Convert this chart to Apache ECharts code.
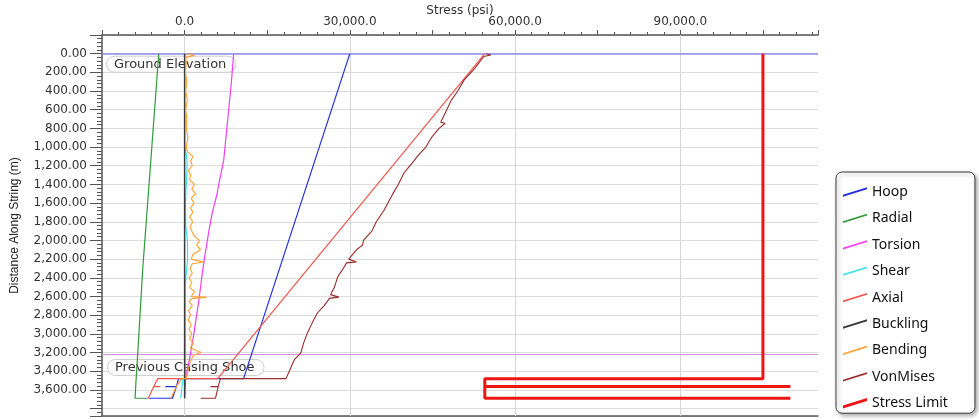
<!DOCTYPE html>
<html>
<head>
<meta charset="utf-8">
<script src="https://cdn.jsdelivr.net/npm/echarts@6/dist/echarts.min.js"></script>
<style>
  html, body { margin: 0; padding: 0; background: #fff; }
  #chart { width: 979px; height: 420px; }
</style>
</head>
<body>
<div id="chart"></div>
<script>
// Stress profile along the string: each series is [stress (psi), distance along string (m)]
const hoop = [[30000,0],[10700,3480],[-1100,3480],[-1500,3565],[-3500,3565],[-1500,3565],[-2200,3690],[-6500,3690]];
const radial = [[-4700,0],[-5700,800],[-7600,2300],[-8500,3200],[-8800,3480],[-9000,3690],[-6700,3690]];
const torsion = [[8900,0],[8500,300],[8000,600],[7500,900],[7100,1140],[6200,1400],[5900,1500],[5000,1710],[4400,1900],[3500,2230],[3100,2400],[2600,2640],[1700,2990],[1100,3200],[200,3480],[0,3480],[0,3690]];
const shear = [[0,0],[0,1000],[300,1080],[450,1150],[400,1300],[250,1450],[150,1600],[200,1850],[500,2000],[550,2200],[300,2350],[100,2500],[100,3480],[-300,3480],[-700,3690]];
const axial = [[54500,0],[6000,3480],[-4900,3480],[-5600,3565],[-4400,3565],[-5600,3565],[-6600,3690]];
const buckling = [[0,0],[0,3690]];
const bending = [[300,0],[1800,20],[200,40],[300,100],[150,200],[400,300],[200,400],[500,500],[200,600],[400,700],[300,800],[600,900],[300,1000],[500,1050],[1500,1100],[1100,1150],[1400,1200],[700,1250],[1100,1300],[900,1350],[1800,1400],[1300,1450],[2000,1500],[1200,1550],[1700,1600],[1100,1650],[1500,1700],[900,1750],[1500,1800],[1000,1850],[1300,1900],[1700,1950],[2700,2000],[2200,2050],[2900,2100],[1500,2150],[1200,2200],[3400,2230],[1400,2250],[1000,2300],[1400,2350],[800,2400],[1300,2450],[900,2500],[1800,2550],[1200,2600],[4000,2610],[1400,2620],[800,2650],[1400,2700],[700,2750],[1100,2800],[600,2850],[1200,2900],[800,2950],[1300,3000],[900,3050],[1600,3100],[1000,3150],[2200,3180],[3000,3200],[1600,3230],[1000,3300],[600,3400],[300,3480],[-600,3480],[-1500,3565],[-2500,3690]];
const vonMises = [[54800,0],[55600,15],[54300,30],[52800,150],[50700,286],[49600,400],[48400,500],[47600,600],[46500,735],[47300,745],[46200,800],[44800,900],[43800,1000],[42400,1090],[41600,1150],[39800,1280],[38800,1400],[38000,1480],[37500,1535],[36200,1676],[34800,1800],[34000,1900],[32500,1997],[32300,2050],[31200,2100],[29800,2200],[31200,2230],[29400,2240],[28800,2300],[27800,2390],[27200,2500],[26500,2580],[28000,2607],[26300,2620],[25300,2700],[24100,2777],[23200,2880],[22300,2990],[21600,3100],[21100,3205],[19900,3280],[19000,3400],[18400,3480],[6500,3480],[6100,3565],[4700,3565],[6100,3565],[5600,3690],[2900,3690]];
const stressLimit = [[105000,0],[105000,3480],[54500,3480],[54500,3565],[110000,3565],[54500,3565],[54500,3690],[110000,3690]];

const seriesNames = ['Hoop','Radial','Torsion','Shear','Axial','Buckling','Bending','VonMises','Stress Limit'];
const seriesData = [hoop, radial, torsion, shear, axial, buckling, bending, vonMises, stressLimit];
const seriesColors = ['#2430dc','#2f9a3c','#f23ef0','#3fe0ea','#f0564c','#3c3c3c','#ffa12e','#9a2c2c','#ee1515'];
const seriesWidths = [1.2,1.2,1.2,1.2,1.2,1.5,1.1,1.1,3];

// reference depths (m) and stress grid positions (psi)
const groundElevation = 0;
const casingShoe = 3215;
const stressGrid = [0, 30000, 60000, 90000];

const stressMin = -15000, stressMax = 115000;
const depthMin = -200, depthMax = 3880;

function fmt(v, dp) {
  const s = Math.abs(v).toFixed(dp);
  const parts = s.split('.');
  const i = parts[0].replace(/\B(?=(\d{3})+(?!\d))/g, ',');
  return (v < 0 ? '-' : '') + i + (parts[1] ? '.' + parts[1] : '');
}

const FONT = 'DejaVu Sans';
const chart = echarts.init(document.getElementById('chart'), null, { renderer: 'canvas' });

const lineSeries = seriesNames.map((name, k) => ({
  name: name,
  type: 'line',
  data: seriesData[k],
  xAxisIndex: 0,
  yAxisIndex: 0,
  symbol: 'none',
  showSymbol: false,
  lineStyle: { color: seriesColors[k], width: seriesWidths[k] },
  itemStyle: { color: seriesColors[k] },
  z: 3,
  animation: false
}));

const legendIcon = 'path://M0,8 L24,0.5 L24,2.3 L0,9.8 Z';
const legendIconBold = 'path://M0,7.5 L24,0 L24,3 L0,10.5 Z';

const refLabel = (text, dist) => ({
  show: true, position: 'insideStartBottom', formatter: text,
  distance: dist,
  fontFamily: FONT, fontSize: 13, color: '#333',
  backgroundColor: '#fff', borderColor: '#d0d0d0', borderWidth: 1, borderRadius: 9,
  padding: [1, 9, 1, 7]
});

chart.setOption({
  animation: false,
  grid: { left: 102, top: 35, right: 161, bottom: 4, containLabel: false, outerBoundsMode: 'none' },
  legend: {
    orient: 'vertical',
    left: 836,
    top: 172,
    padding: [13, 27, 3, 7],
    itemWidth: 24,
    itemHeight: 14,
    itemGap: 12.4,
    itemStyle: { borderWidth: 0 },
    backgroundColor: '#fff',
    borderColor: '#3a3a3a',
    borderWidth: 1,
    borderRadius: 6,
    shadowBlur: 4,
    shadowColor: 'rgba(0,0,0,0.35)',
    shadowOffsetX: 2,
    shadowOffsetY: 2,
    textStyle: { fontFamily: 'Noto Sans', fontSize: 14, color: '#111' },
    data: seriesNames.map((n, k) => ({ name: n, icon: k === 8 ? legendIconBold : legendIcon }))
  },
  xAxis: [
    {
      type: 'value', position: 'top', min: stressMin, max: stressMax, interval: 3000,
      name: 'Stress (psi)', nameLocation: 'middle', nameGap: 18, nameMoveOverlap: false,
      nameTextStyle: { fontFamily: FONT, fontSize: 12, color: '#333' },
      axisLine: { show: true, onZero: false, lineStyle: { color: '#555', width: 1.5 } },
      axisTick: { show: true, length: 3, lineStyle: { color: '#555' } },
      axisLabel: {
        show: true, margin: 7, fontFamily: FONT, fontSize: 12, color: '#333',
        formatter: v => (Math.round(v) % 30000 === 0 ? fmt(v, 1) : '')
      },
      splitLine: { show: false }
    },
    {
      type: 'value', position: 'top', min: stressMin, max: stressMax, interval: 15000,
      axisLine: { show: false, onZero: false },
      axisTick: { show: true, length: 5, lineStyle: { color: '#555' } },
      axisLabel: { show: false },
      splitLine: { show: false }
    },
    {
      type: 'value', position: 'bottom', min: stressMin, max: stressMax,
      axisLine: { show: true, onZero: false, lineStyle: { color: '#555', width: 1.5 } },
      axisTick: { show: false },
      axisLabel: { show: false },
      splitLine: { show: false }
    }
  ],
  yAxis: {
    type: 'value', inverse: true, min: depthMin, max: depthMax, interval: 200,
    name: 'Distance Along String (m)', nameLocation: 'middle', nameGap: 81, nameMoveOverlap: false,
    nameTextStyle: { fontFamily: 'Liberation Sans Narrow, Liberation Sans', fontSize: 12, color: '#222' },
    axisLine: { show: true, onZero: false, lineStyle: { color: '#555', width: 1.5 } },
    axisTick: { show: true, length: 12, lineStyle: { color: '#555' } },
    minorTick: { show: true, splitNumber: 5, length: 5, lineStyle: { color: '#555' } },
    axisLabel: {
      margin: 15, fontFamily: FONT, fontSize: 12, color: '#333',
      formatter: v => (v < 0 || v > 3700 ? '' : fmt(v, 2))
    },
    splitLine: { show: true, lineStyle: { color: '#dcdcdc', width: 1 } }
  },
  series: [
    {
      name: 'stressGrid', type: 'line', data: [], z: 1, silent: true,
      markLine: {
        silent: true, symbol: 'none', z: 1, animation: false,
        label: { show: false },
        lineStyle: { color: '#d6d6d6', width: 1, type: 'solid' },
        data: stressGrid.map(v => ({ xAxis: v }))
      }
    },
    {
      name: 'references', type: 'line', data: [], z: 2, silent: true,
      markLine: {
        silent: true, symbol: 'none', z: 2, animation: false,
        data: [
          {
            yAxis: groundElevation,
            lineStyle: { color: '#8d8df0', width: 1.5, type: 'solid' },
            label: refLabel('Ground Elevation', [5, 3])
          },
          {
            yAxis: casingShoe,
            lineStyle: { color: '#d98ae6', width: 1, type: 'solid' },
            label: refLabel('Previous Casing Shoe', [6, 6])
          }
        ]
      }
    }
  ].concat(lineSeries)
});
</script>
</body>
</html>
